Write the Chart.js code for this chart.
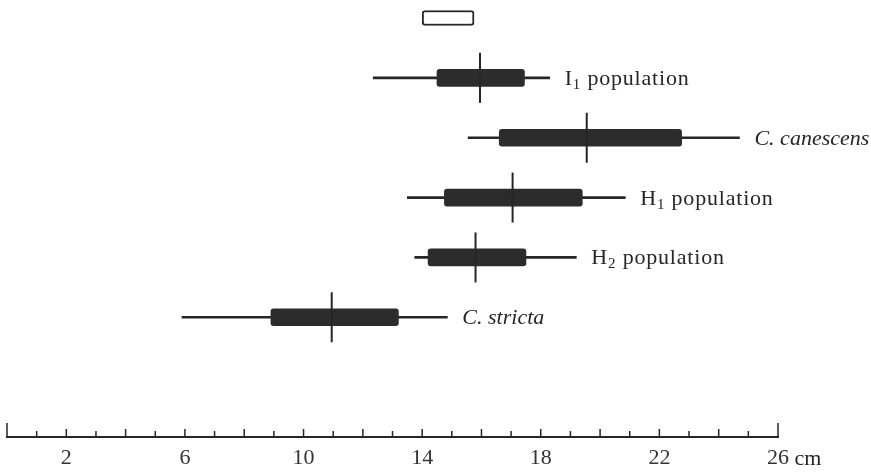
<!DOCTYPE html>
<html>
<head>
<meta charset="utf-8">
<script src="https://cdn.jsdelivr.net/npm/chart.js@4.4.0/dist/chart.umd.min.js"></script>
<style>
    html, body { margin: 0; padding: 0; background: #fff; }
    #wrap { width: 871px; height: 473px; position: relative; }
</style>
</head>
<body>
<div id="wrap"><canvas id="chart"></canvas></div>
<script>
// 行（上から順）
const rowNames = ['I1 population', 'C. canescens', 'H1 population', 'H2 population', 'C. stricta'];
const rowMain = ['I', 'C. canescens', 'H', 'H', 'C. stricta'];
const rowSub = ['1', '', '1', '2', ''];
const rowRest = [' population', '', ' population', ' population', ''];
const rowItalic = [false, true, false, false, true];

// 値 (cm)
const rangeLo = [12.35, 15.55, 13.5, 13.75, 5.9];
const rangeHi = [18.3, 24.7, 20.85, 19.2, 14.85];
const boxLo = [14.5, 16.6, 14.75, 14.2, 8.9];
const boxHi = [17.45, 22.75, 19.4, 17.5, 13.2];
const medians = [15.95, 19.55, 17.05, 15.8, 10.95];
const keyBox = [14.0, 15.75];

// 目盛り
const tickValues = [2, 6, 10, 14, 18, 22, 26];
const axisUnit = 'cm';

const ink = '#262626';
const serif = '"Liberation Serif", "DejaVu Serif", serif';

// カテゴリ：一番上は凡例の箱、下の2つは空き
const categories = ['key', ...rowNames, 'blank1', 'blank2'];
const padRows = arr => [null, ...arr, null, null];

// 目盛り線と行ラベルを描くプラグイン
const decorPlugin = {
    id: 'decor',
    afterDraw(chart) {
        const ctx = chart.ctx;
        const xs = chart.scales.x;
        const ys = chart.scales.y;
        const bottom = chart.chartArea.bottom;
        ctx.save();
        ctx.strokeStyle = ink;
        ctx.lineWidth = 1.5;
        for (let v = xs.min; v <= xs.max; v++) {
            const x = xs.getPixelForValue(v);
            const len = (v === xs.min || v === xs.max) ? 14 : (v % 2 === 0 ? 8 : 6);
            ctx.beginPath();
            ctx.moveTo(x, bottom);
            ctx.lineTo(x, bottom - len);
            ctx.stroke();
        }

        // 単位 "cm"
        ctx.fillStyle = ink;
        ctx.font = '22px ' + serif;
        ctx.textBaseline = 'alphabetic';
        const lastX = xs.getPixelForValue(xs.max);
        const wLast = ctx.measureText(String(xs.max)).width;
        ctx.fillText(' ' + axisUnit, lastX + wLast / 2, bottom + 28);

        // 行ラベル
        rowNames.forEach((name, i) => {
            const y = ys.getPixelForValue(i + 1) + 7;
            let x = xs.getPixelForValue(rangeHi[i]) + 15;
            const style = rowItalic[i] ? 'italic ' : '';
            ctx.letterSpacing = rowItalic[i] ? '0px' : '0.8px';
            ctx.font = style + '22px ' + serif;
            ctx.fillText(rowMain[i], x, y);
            x += ctx.measureText(rowMain[i]).width;
            if (rowSub[i]) {
                ctx.font = style + '15px ' + serif;
                ctx.fillText(rowSub[i], x, y + 4);
                x += ctx.measureText(rowSub[i]).width;
            }
            if (rowRest[i]) {
                ctx.font = style + '22px ' + serif;
                ctx.fillText(rowRest[i], x, y);
            }
        });
        ctx.restore();
    }
};

const chart = new Chart(document.getElementById('chart'), {
    data: {
        labels: categories,
        datasets: [
            {
                // 中央値の縦線
                type: 'scatter',
                data: medians.map((m, i) => ({ x: m, y: rowNames[i] })),
                pointStyle: 'line',
                rotation: 90,
                radius: 25,
                borderWidth: 2,
                borderColor: ink,
                order: 1,
                clip: false,
            },
            {
                // 箱
                type: 'bar',
                indexAxis: 'y',
                data: padRows(boxLo.map((lo, i) => [lo, boxHi[i]])),
                backgroundColor: '#2c2c2c',
                barThickness: 17,
                borderRadius: 3,
                borderSkipped: false,
                grouped: false,
                order: 2,
                clip: false,
            },
            {
                // 凡例の白抜きの箱
                type: 'bar',
                indexAxis: 'y',
                data: [keyBox, null, null, null, null, null, null, null],
                backgroundColor: '#ffffff',
                borderColor: ink,
                borderWidth: 2,
                barThickness: 15,
                borderRadius: 3,
                borderSkipped: false,
                grouped: false,
                order: 2,
                clip: false,
            },
            {
                // 範囲（ひげ）
                type: 'bar',
                indexAxis: 'y',
                data: padRows(rangeLo.map((lo, i) => [lo, rangeHi[i]])),
                backgroundColor: ink,
                barThickness: 2,
                grouped: false,
                order: 3,
                clip: false,
            },
        ],
    },
    options: {
        responsive: true,
        maintainAspectRatio: false,
        animation: false,
        layout: {
            autoPadding: false,
            padding: { left: 7, right: 93, top: 18, bottom: 0 },
        },
        plugins: {
            legend: { display: false },
            tooltip: { enabled: false },
        },
        scales: {
            x: {
                type: 'linear',
                position: 'bottom',
                min: 0,
                max: 26,
                grid: { display: false },
                border: { display: true, color: ink, width: 2 },
                ticks: {
                    stepSize: 1,
                    autoSkip: false,
                    maxRotation: 0,
                    padding: 0,
                    color: '#333',
                    font: { family: serif, size: 22 },
                    callback: v => tickValues.includes(v) ? String(v) : '',
                },
                afterFit(scale) { scale.height = 36; },
            },
            y: {
                type: 'category',
                labels: categories,
                display: false,
                offset: false,
            },
        },
    },
    plugins: [decorPlugin],
});
</script>
</body>
</html>
